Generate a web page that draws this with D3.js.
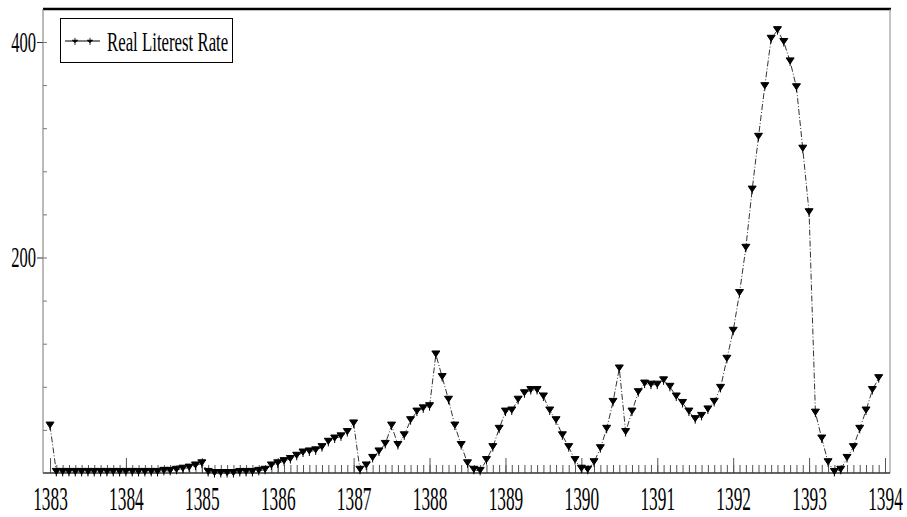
<!DOCTYPE html>
<meta charset="utf-8">
<style>
body {
  background: #fff;
  margin: 0;
  padding: 0;
}
.label {
  font-family: 'Liberation Serif', 'DejaVu Serif', serif;
  fill: #000;
}
.rate {
  fill: none;
  stroke: #333;
  stroke-width: 1px;
  stroke-dasharray: 6,2,1,2;
}
.marker {
  fill: #000;
  stroke: #000;
  stroke-width: 1px;
}
</style>
<body>
<script src="https://d3js.org/d3.v7.min.js"></script>
<script>
var width = 907,
    height = 517;

// monthly values, first month of 1383 to last month of 1393
var startYear = 1383;
var years = [1383, 1384, 1385, 1386, 1387, 1388, 1389, 1390, 1391, 1392, 1393, 1394];
var yLabels = [200, 400];
var legendLabel = "Real Literest Rate";
var rate = [
  44, 1, 1, 1, 1, 1, 1, 1, 1, 1, 1, 1,
  1, 1, 1, 1, 1, 1, 2, 2, 3, 4, 5, 7,
  9, 1, 0, 0, 0, 0, 1, 1, 1, 2, 3, 7,
  9, 11, 13, 16, 19, 20, 21, 24, 29, 32, 34, 38,
  46, 3, 7, 14, 20, 27, 44, 26, 35, 49, 57, 60,
  62, 110, 89, 68, 44, 26, 9, 3, 2, 12, 24, 41,
  57, 58, 68, 74, 77, 77, 71, 58, 49, 35, 24, 12,
  4, 3, 10, 23, 41, 66, 97, 38, 57, 75, 83, 82,
  82, 86, 80, 71, 65, 57, 50, 53, 59, 66, 79, 106,
  132, 167, 209, 263, 312, 359, 403, 411, 400, 382, 358, 301,
  242, 56, 32, 10, 1, 3, 14, 24, 41, 58, 77, 88
];

var frame = {left: 43, right: 890, top: 9, bottom: 473};

var x = d3.scaleLinear().domain([1383, 1394]).range([50, 885]);
var y = d3.scaleLinear().domain([0, 400]).range([473, 42]);

var svg = d3.select("body").append("svg")
    .attr("width", width)
    .attr("height", height);

// frame
svg.append("line")
    .attr("x1", frame.left).attr("x2", frame.right + 1)
    .attr("y1", frame.top).attr("y2", frame.top)
    .attr("stroke", "#000").attr("stroke-width", 2.5);
svg.append("line")
    .attr("x1", frame.right).attr("x2", frame.right)
    .attr("y1", frame.top).attr("y2", frame.bottom)
    .attr("stroke", "#888").attr("stroke-width", 1);

// monthly minor ticks
var months = d3.range(0, 133).map(function(i) { return startYear + i / 12; });
svg.append("g")
    .attr("transform", "translate(0," + frame.bottom + ")")
    .call(d3.axisBottom(x).tickValues(months).tickSizeInner(-8).tickSizeOuter(0).tickFormat(""))
    .call(function(g) {
      g.select(".domain").remove();
      g.selectAll("line").attr("stroke", "#555");
    });

var xAxis = svg.append("g")
    .attr("transform", "translate(0," + frame.bottom + ")")
    .call(d3.axisBottom(x).tickValues(years).tickSizeInner(-15).tickSizeOuter(0).tickPadding(13).tickFormat(d3.format("d")));
xAxis.select(".domain").remove();
xAxis.selectAll("line").attr("stroke", "#555");
// condensed serif labels
xAxis.selectAll("text")
    .attr("class", "label")
    .style("font-size", "34px")
    .attr("transform", "scale(0.51,1)");

svg.append("line")
    .attr("x1", frame.left).attr("x2", frame.right)
    .attr("y1", frame.bottom).attr("y2", frame.bottom)
    .attr("stroke", "#333").attr("stroke-width", 1.5);

// y axis
svg.append("g")
    .attr("transform", "translate(" + frame.left + ",0)")
    .call(d3.axisLeft(y).tickValues(d3.range(40, 431, 40)).tickSizeInner(-4).tickSizeOuter(0).tickFormat(""))
    .call(function(g) {
      g.select(".domain").remove();
      g.selectAll("line").attr("stroke", "#777");
    });

var yAxis = svg.append("g")
    .attr("transform", "translate(" + frame.left + ",0)")
    .call(d3.axisLeft(y).tickValues(yLabels).tickSizeInner(6).tickSizeOuter(0).tickPadding(1));
yAxis.select(".domain").remove();
yAxis.selectAll("line").attr("stroke", "#333");
yAxis.selectAll("text")
    .attr("class", "label")
    .style("font-size", "29px")
    .attr("x", -7 / 0.57)
    .attr("transform", "scale(0.57,1)");

svg.append("line")
    .attr("x1", frame.left).attr("x2", frame.left)
    .attr("y1", frame.top).attr("y2", frame.bottom)
    .attr("stroke", "#777").attr("stroke-width", 1);

// series
var line = d3.line()
    .x(function(d, i) { return x(startYear + i / 12); })
    .y(function(d) { return y(d); });

svg.append("path")
    .datum(rate)
    .attr("class", "rate")
    .attr("d", line);

var markerPath = "M-4,-3.5H4L0,2.5Z M0,-3.5V4.5";

svg.append("g").selectAll("path")
    .data(rate)
    .join("path")
    .attr("class", "marker")
    .attr("transform", function(d, i) { return "translate(" + x(startYear + i / 12) + "," + y(d) + ")"; })
    .attr("d", markerPath);

// legend
var legend = svg.append("g");
legend.append("rect")
    .attr("x", 60.5).attr("y", 18.5)
    .attr("width", 172).attr("height", 44)
    .attr("fill", "#fff").attr("stroke", "#000").attr("stroke-width", 1);
legend.append("line")
    .attr("x1", 65).attr("x2", 100)
    .attr("y1", 41).attr("y2", 41)
    .attr("stroke", "#000").attr("stroke-width", 1.2);
legend.selectAll(".lm")
    .data([75, 90])
    .join("path")
    .attr("class", "marker")
    .attr("transform", function(d) { return "translate(" + d + ",41) scale(0.8)"; })
    .attr("d", "M-3.5,-1H3.5L0,2Z M0,-4V5");
legend.append("text")
    .attr("class", "label")
    .attr("transform", "translate(107,51) scale(0.6,1)")
    .style("font-size", "28px")
    .text(legendLabel);
</script>
</body>
